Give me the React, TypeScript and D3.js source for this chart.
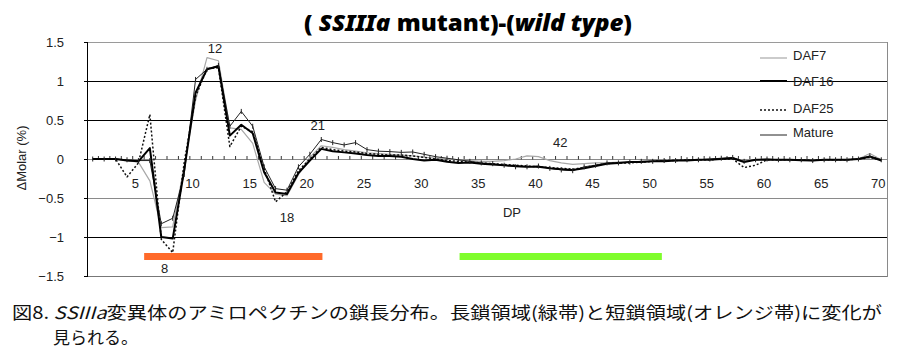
import React, { useEffect, useRef } from 'react';
import * as d3 from 'd3';

// DP categories 1..70
const dpValues = d3.range(1, 71);

const daf7 = [
  0, 0, 0, -0.02, -0.04, -0.28, -0.88, -0.87, -0.1, 0.75,
  1.3, 1.26, 0.4, 0.38, 0.2, -0.3, -0.45, -0.47, -0.2, 0.02,
  0.17, 0.15, 0.12, 0.1, 0.08, 0.07, 0.06, 0.05, 0.04, 0.02,
  0.01, 0.0, -0.01, -0.02, -0.03, -0.03, -0.02, 0.0, 0.04, 0.03,
  -0.02, -0.05, -0.07, -0.06, -0.05, -0.05, -0.04, -0.04, -0.03, -0.03,
  -0.02, -0.02, -0.01, -0.01, 0, 0, 0.01, -0.02, -0.01, 0,
  -0.01, -0.01, -0.015, -0.02, -0.01, -0.01, -0.01, 0, 0.07, -0.01,
];
const daf16 = [
  0, 0, 0, -0.02, -0.03, 0.14, -1.0, -1.02, -0.15, 0.85,
  1.15, 1.19, 0.3, 0.44, 0.33, -0.17, -0.43, -0.45, -0.18, -0.02,
  0.13, 0.1, 0.085, 0.07, 0.05, 0.04, 0.04, 0.03, 0.0, -0.02,
  -0.01, -0.035, -0.05, -0.045, -0.06, -0.07, -0.08, -0.09, -0.1, -0.1,
  -0.12, -0.13, -0.14, -0.12, -0.09, -0.06, -0.05, -0.04, -0.04, -0.03,
  -0.03, -0.02, -0.02, -0.01, -0.01, 0, 0.01, -0.04, -0.01, -0.01,
  -0.01, -0.01, -0.015, -0.02, -0.01, -0.01, -0.01, 0, 0.03, -0.02,
];
const daf25 = [
  0, 0, 0, -0.23, -0.05, 0.57, -1.03, -1.2, -0.05, 0.8,
  1.16, 1.17, 0.16, 0.42, 0.35, -0.12, -0.55, -0.42, -0.15, 0.0,
  0.15, 0.12, 0.1, 0.09, 0.07, 0.06, 0.05, 0.05, 0.04, 0.02,
  0.0, -0.02, -0.03, -0.04, -0.05, -0.06, -0.07, -0.08, -0.09, -0.1,
  -0.11, -0.12, -0.13, -0.11, -0.08, -0.06, -0.05, -0.05, -0.04, -0.03,
  -0.02, -0.02, -0.01, -0.01, -0.01, 0, 0, -0.11, -0.08, -0.01,
  -0.01, -0.01, -0.01, -0.02, -0.01, -0.01, -0.01, 0, 0.02, -0.01,
];
const mature = [
  0, 0, 0, -0.01, -0.02, -0.02, -0.83, -0.76, -0.2, 1.02,
  1.15, 1.2, 0.42, 0.61, 0.42, -0.1, -0.38, -0.4, -0.1, 0.06,
  0.25, 0.21, 0.18, 0.21, 0.12, 0.1, 0.095, 0.085, 0.09, 0.06,
  0.03, 0.01, -0.01, -0.03, -0.05, -0.06, -0.08, -0.1, -0.1, -0.09,
  -0.12, -0.14, -0.15, -0.1, -0.08, -0.05, -0.05, -0.04, -0.03, -0.03,
  -0.02, -0.02, -0.01, -0.01, 0, 0.01, 0.02, -0.03, -0.01, 0,
  -0.01, -0.01, -0.01, -0.02, -0.01, -0.01, -0.01, 0, 0.04, -0.01,
];

const seriesNames = ['DAF7', 'DAF16', 'DAF25', 'Mature'];
const yTicks = [1.5, 1, 0.5, 0, -0.5, -1, -1.5];
const xTickLabels = [5, 10, 15, 20, 25, 30, 35, 40, 45, 50, 55, 60, 65, 70];

// peak labels: [text, dp, value]
const peakLabels: [string, number, number][] = [
  ['12', 11.7, 1.42],
  ['21', 20.7, 0.44],
  ['42', 41.9, 0.22],
  ['18', 18.0, -0.74],
  ['8', 7.3, -1.4],
];

// short-chain (orange) and long-chain (green) bands, in DP
const orangeBand = [5.5, 21.1];
const greenBand = [33.1, 50.8];
const bandLevel = -1.25;

export default function App() {
  const ref = useRef<SVGSVGElement>(null);

  useEffect(() => {
    const W = 900;
    const H = 358;
    const left = 87, right = 887, top = 42, bottom = 276;

    const svg = d3.select(ref.current);
    svg.selectAll('*').remove();
    svg.attr('width', W).attr('height', H);

    const x = d3.scaleLinear().domain([0.5, 70.5]).range([left, right]);
    const y = d3.scaleLinear().domain([-1.5, 1.5]).range([bottom, top]);

    // title
    const title = svg.append('text')
      .attr('x', 304).attr('y', 31)
      .attr('textLength', 328)
      .attr('lengthAdjust', 'spacingAndGlyphs')
      .style('font-family', '"Noto Sans", sans-serif')
      .style('font-weight', '900')
      .style('font-size', '23px')
      .style('fill', '#000');
    title.append('tspan').text('( ');
    title.append('tspan').style('font-style', 'italic').text('SSIIIa');
    title.append('tspan').text(' mutant)-(');
    title.append('tspan').style('font-style', 'italic').text('wild type');
    title.append('tspan').text(')');

    // gridlines
    const gridColor: Record<string, string> = {
      '1.5': '#9a9a9a', '1': '#000', '0.5': '#000', '0': '#8a8a8a',
      '-0.5': '#8a8a8a', '-1': '#000', '-1.5': '#777',
    };
    svg.append('g').selectAll('line')
      .data(yTicks)
      .join('line')
      .attr('x1', left).attr('x2', right)
      .attr('y1', d => y(d) + 0.5).attr('y2', d => y(d) + 0.5)
      .attr('stroke', d => gridColor[String(d)])
      .attr('stroke-width', 1);

    // right border
    svg.append('line')
      .attr('x1', right + 0.5).attr('x2', right + 0.5)
      .attr('y1', top).attr('y2', bottom + 1)
      .attr('stroke', '#8a8a8a');

    // left axis
    svg.append('line')
      .attr('x1', left + 0.5).attr('x2', left + 0.5)
      .attr('y1', top).attr('y2', bottom + 1)
      .attr('stroke', '#000');
    svg.append('g').selectAll('line')
      .data(yTicks)
      .join('line')
      .attr('x1', left - 3).attr('x2', left)
      .attr('y1', d => y(d) + 0.5).attr('y2', d => y(d) + 0.5)
      .attr('stroke', '#000');

    svg.append('g').selectAll('text')
      .data(yTicks)
      .join('text')
      .attr('x', 64)
      .attr('y', d => y(d) + 5)
      .attr('text-anchor', 'end')
      .style('font-family', '"Liberation Sans", Arial, sans-serif')
      .style('font-size', '13px')
      .style('fill', '#222')
      .text(d => d3.format('')(d).replace('-', '\u2212'));

    // y axis title
    svg.append('text')
      .attr('transform', 'translate(26,158) rotate(-90)')
      .attr('text-anchor', 'middle')
      .style('font-family', '"Liberation Sans", Arial, sans-serif')
      .style('font-size', '13px')
      .style('fill', '#222')
      .text('\u0394Molar (%)');

    // category ticks on the zero line
    svg.append('g').selectAll('line')
      .data(d3.range(1, 70))
      .join('line')
      .attr('x1', d => x(d + 0.5)).attr('x2', d => x(d + 0.5))
      .attr('y1', y(0) - 3).attr('y2', y(0) + 0.5)
      .attr('stroke', '#333');

    svg.append('g').selectAll('text')
      .data(xTickLabels)
      .join('text')
      .attr('x', d => x(d) - 3)
      .attr('y', y(0) + 29)
      .attr('text-anchor', 'middle')
      .style('font-family', '"Liberation Sans", Arial, sans-serif')
      .style('font-size', '13px')
      .style('fill', '#222')
      .text(d => d);

    svg.append('text')
      .attr('x', 512).attr('y', 217)
      .attr('text-anchor', 'middle')
      .style('font-family', '"Liberation Sans", Arial, sans-serif')
      .style('font-size', '13px')
      .style('fill', '#222')
      .text('DP');

    // bands
    svg.append('rect')
      .attr('x', x(orangeBand[0])).attr('width', x(orangeBand[1]) - x(orangeBand[0]))
      .attr('y', y(bandLevel) - 3.5).attr('height', 7)
      .attr('fill', '#ff6a2a');
    svg.append('rect')
      .attr('x', x(greenBand[0])).attr('width', x(greenBand[1]) - x(greenBand[0]))
      .attr('y', y(bandLevel) - 3.5).attr('height', 7)
      .attr('fill', '#7ffd2c');

    // series
    const line = d3.line<number>()
      .x((_, i) => x(dpValues[i]))
      .y(d => y(d));

    const styles = [
      { data: daf7, stroke: '#a8a8a8', width: 1.2, dash: null },
      { data: daf25, stroke: '#111', width: 1.5, dash: '2,2' },
      { data: mature, stroke: '#222', width: 1, dash: null },
      { data: daf16, stroke: '#000', width: 2, dash: null },
    ];
    styles.forEach(s => {
      svg.append('path')
        .datum(s.data)
        .attr('fill', 'none')
        .attr('stroke', s.stroke)
        .attr('stroke-width', s.width)
        .attr('stroke-dasharray', s.dash)
        .attr('stroke-linejoin', 'round')
        .attr('d', line);
    });

    // small markers on the thin black series
    svg.append('g').selectAll('line')
      .data(mature)
      .join('line')
      .attr('x1', (_, i) => x(dpValues[i])).attr('x2', (_, i) => x(dpValues[i]))
      .attr('y1', d => y(d) - 2.5).attr('y2', d => y(d) + 2.5)
      .attr('stroke', '#222');

    // peak labels
    svg.append('g').selectAll('text')
      .data(peakLabels)
      .join('text')
      .attr('x', d => x(d[1]))
      .attr('y', d => y(d[2]) + 5)
      .attr('text-anchor', 'middle')
      .style('font-family', '"Liberation Sans", Arial, sans-serif')
      .style('font-size', '13px')
      .style('fill', '#222')
      .text(d => d[0]);

    // legend
    const legendY = [58, 81, 110, 135];
    const legendTextY = [60, 86, 113, 137];
    const legendStyles = [styles[0], styles[3], styles[1], styles[2]];
    seriesNames.forEach((name, i) => {
      svg.append('line')
        .attr('x1', 760).attr('x2', 787)
        .attr('y1', legendY[i]).attr('y2', legendY[i])
        .attr('stroke', legendStyles[i].stroke)
        .attr('stroke-width', legendStyles[i].width)
        .attr('stroke-dasharray', legendStyles[i].dash);
      svg.append('text')
        .attr('x', 793).attr('y', legendTextY[i])
        .style('font-family', '"Liberation Sans", Arial, sans-serif')
        .style('font-size', '13px')
        .style('fill', '#222')
        .text(name);
    });

    // caption
    const cap = svg.append('text')
      .attr('x', 12).attr('y', 319)
      .attr('textLength', 870)
      .attr('lengthAdjust', 'spacingAndGlyphs')
      .style('font-family', '"Noto Sans CJK JP", sans-serif')
      .style('font-size', '17px')
      .style('fill', '#111');
    cap.append('tspan').text('図8. ');
    cap.append('tspan').style('font-style', 'italic').text('SSIIIa');
    cap.append('tspan').text('変異体のアミロペクチンの鎖長分布。長鎖領域(緑帯)と短鎖領域(オレンジ帯)に変化が');

    svg.append('text')
      .attr('x', 53).attr('y', 344)
      .style('font-family', '"Noto Sans CJK JP", sans-serif')
      .style('font-size', '17px')
      .style('fill', '#111')
      .text('見られる。');
  }, []);

  return (
    <svg ref={ref} style={{ position: 'absolute', left: 0, top: 0, background: '#fff' }} />
  );
}
